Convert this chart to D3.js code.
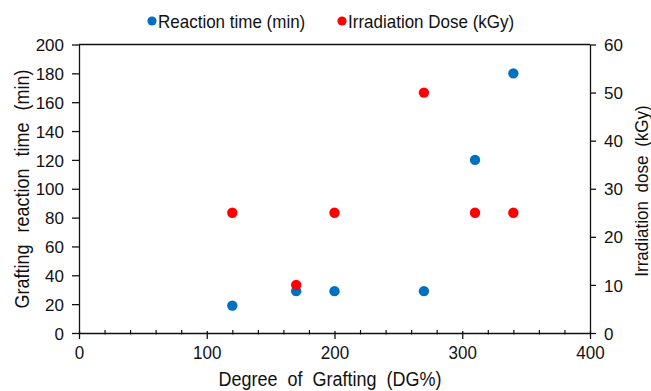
<!DOCTYPE html>
<html>
<head>
<meta charset="utf-8">
<script src="https://cdn.jsdelivr.net/npm/d3@7"></script>
<style>
  html, body { margin: 0; padding: 0; background: #fff; }
  svg { display: block; font-family: "Liberation Sans", Arial, sans-serif; }
  text { fill: #111; }
</style>
</head>
<body>
<svg id="chart" width="651" height="391"></svg>
<script>
// ---- data ----
const degreeOfGrafting = [120, 170, 200, 270, 310, 340];
const reactionTime = [19, 29, 29, 29, 120, 180];      // min (left axis)
const irradiationDose = [25, 10, 25, 50, 25, 25];      // kGy (right axis)
const xTicks = [0, 100, 200, 300, 400];
const xMinorTicks = [20, 40, 60, 80, 120, 140, 160, 180, 220, 240, 260, 280, 320, 340, 360, 380];
const yLeftTicks = [0, 20, 40, 60, 80, 100, 120, 140, 160, 180, 200];
const yRightTicks = [0, 10, 20, 30, 40, 50, 60];
const seriesNames = ["Reaction time (min)", "Irradiation Dose (kGy)"];
const seriesColors = ["#0070C0", "#FF0000"];

// ---- layout ----
const L = 79, R = 590, T = 44.5, B = 333;
const FS = 17, VS = 1.1;

const svg = d3.select("#chart");
const x = d3.scaleLinear().domain([0, 400]).range([L, R]);
const yL = d3.scaleLinear().domain([0, 200]).range([B, T]);
const yR = d3.scaleLinear().domain([0, 60]).range([B, T]);

function styleAxis(g) {
  g.selectAll("path, line").attr("stroke", "#111").attr("stroke-width", 1.3);
  g.selectAll("text").attr("font-size", FS).attr("fill", "#111")
    .attr("font-family", "'Liberation Sans', Arial, sans-serif");
}

// top border
svg.append("line").attr("x1", L).attr("x2", R).attr("y1", T).attr("y2", T)
  .attr("stroke", "#111").attr("stroke-width", 1.3);

// minor x ticks
const gMinor = svg.append("g").attr("transform", `translate(0,${B})`)
  .call(d3.axisBottom(x).tickValues(xMinorTicks).tickFormat("").tickSizeOuter(0));
gMinor.select(".domain").remove();
gMinor.selectAll("line").attr("y1", -3).attr("y2", 1.5).attr("stroke", "#111").attr("stroke-width", 1.2);

// bottom axis
const gx = svg.append("g").attr("transform", `translate(0,${B})`)
  .call(d3.axisBottom(x).tickValues(xTicks).tickSizeOuter(0));
styleAxis(gx);
gx.selectAll(".tick line").attr("y1", -2).attr("y2", 6);
gx.selectAll(".tick text").attr("y", 26 / VS).attr("dy", null)
  .attr("transform", `scale(1,${VS})`);

// left axis
const gl = svg.append("g").attr("transform", `translate(${L},0)`)
  .call(d3.axisLeft(yL).tickValues(yLeftTicks).tickSize(7).tickPadding(8).tickSizeOuter(0));
styleAxis(gl);
gl.selectAll(".tick text").attr("dy", "0.36em");

// right axis
const gr = svg.append("g").attr("transform", `translate(${R},0)`)
  .call(d3.axisRight(yR).tickValues(yRightTicks).tickSize(6).tickPadding(8).tickSizeOuter(0));
styleAxis(gr);
gr.selectAll(".tick text").attr("dy", "0.36em");

// points
const pts = degreeOfGrafting.map((d, i) => ({ x: d, t: reactionTime[i], dose: irradiationDose[i] }));
svg.append("g").selectAll("circle").data(pts).join("circle")
  .attr("cx", d => x(d.x)).attr("cy", d => yL(d.t)).attr("r", 5.2)
  .attr("fill", seriesColors[0]);
svg.append("g").selectAll("circle").data(pts).join("circle")
  .attr("cx", d => x(d.x)).attr("cy", d => yR(d.dose)).attr("r", 5.2)
  .attr("fill", seriesColors[1]);

// text helper with slight vertical stretch
function label(px, py, str, opts = {}) {
  const g = svg.append("g").attr("transform",
    `translate(${px},${py}) rotate(${opts.rotate || 0}) scale(1,${VS})`);
  return g.append("text").attr("x", 0).attr("y", 0)
    .attr("font-size", opts.size || FS)
    .attr("text-anchor", opts.anchor || "start")
    .style("word-spacing", (opts.ws || 0) + "px")
    .text(str);
}

// axis titles
label(29, 189, "Grafting reaction time (min)", { rotate: -90, anchor: "middle", size: 18, ws: 7 });
label(648, 191, "Irradiation dose (kGy)", { rotate: -90, anchor: "middle", size: 17, ws: 4 });
label(330, 386, "Degree of Grafting (DG%)", { anchor: "middle", size: 18, ws: 5 });

// legend
const legendX = [152, 342];
seriesNames.forEach((name, i) => {
  svg.append("circle").attr("cx", legendX[i]).attr("cy", 21).attr("r", 4.6).attr("fill", seriesColors[i]);
  label(legendX[i] + 6, 28, name, { size: FS });
});
</script>
</body>
</html>
